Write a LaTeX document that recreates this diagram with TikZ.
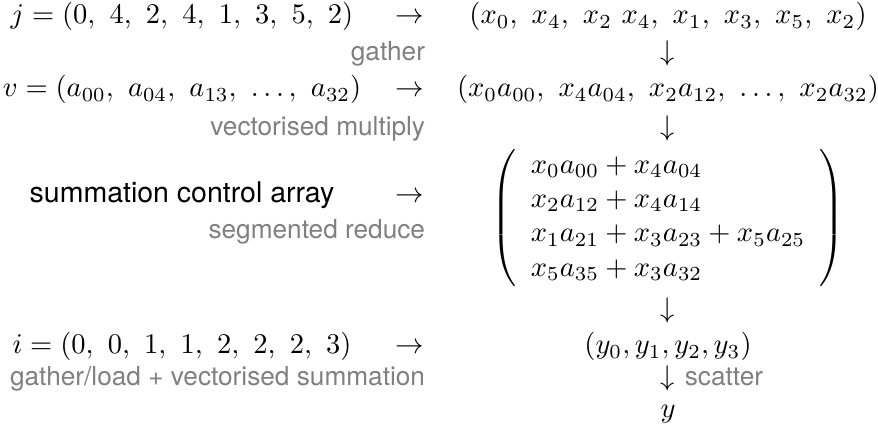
\documentclass[tikz,border=0pt]{standalone}
\usepackage{fontspec}
\setsansfont{TeX Gyre Heros}
\usetikzlibrary{positioning}
\definecolor{flowGray}{RGB}{128,128,128}

\begin{document}
\begin{tikzpicture}[x=1cm,y=1cm,
    every node/.style={inner sep=0pt,outer sep=0pt},
    vec/.style={anchor=base},
    opnote/.style={anchor=base east,text=flowGray,font=\sffamily\fontsize{9.2}{11}\selectfont}]
  \useasboundingbox (0,0) rectangle (10.829,5.303);
  % left column: index and value arrays
  \node[vec] (jIdx) at (2.245,5.007) {$j=(0,\ 4,\ 2,\ 4,\ 1,\ 3,\ 5,\ 2)$};
  \node[opnote] (opGather) at (5.242,4.551) {gather};
  \node[vec] (vVal) at (2.245,4.107) {$v=(a_{00},\ a_{04},\ a_{13},\ \ldots,\ a_{32})$};
  \node[opnote] (opMult) at (5.242,3.626) {vectorised multiply};
  \node[vec,font=\sffamily] (sumCtl) at (2.245,2.800) {summation control array};
  \node[opnote] (opReduce) at (5.242,2.356) {segmented reduce};
  \node[vec] (iIdx) at (2.245,0.937) {$i=(0,\ 0,\ 1,\ 1,\ 2,\ 2,\ 2,\ 3)$};
  \node[opnote] (opSum) at (5.242,0.543) {gather/load + vectorised summation};
  % arrows between the columns
  \node[vec] (toX) at (5.057,5.007) {$\rightarrow$};
  \node[vec] (toProd) at (5.057,4.107) {$\rightarrow$};
  \node[vec] (toMat) at (5.057,2.800) {$\rightarrow$};
  \node[vec] (toY) at (5.057,0.937) {$\rightarrow$};
  % right column: data flow
  \node[vec] (xGath) at (8.239,5.007) {$(x_0,\ x_4,\ x_2\ x_4,\ x_1,\ x_3,\ x_5,\ x_2)$};
  \node[vec] (dnA) at (8.239,4.551) {$\downarrow$};
  \node[vec] (xProd) at (8.239,4.107) {$(x_0a_{00},\ x_4a_{04},\ x_2a_{12},\ \ldots,\ x_2a_{32})$};
  \node[vec] (dnB) at (8.239,3.626) {$\downarrow$};
  \node (sumMat) at (8.239,2.615) {$\left(\begin{array}{l}
      x_0a_{00}+x_4a_{04}\\
      x_2a_{12}+x_4a_{14}\\
      x_1a_{21}+x_3a_{23}+x_5a_{25}\\
      x_5a_{35}+x_3a_{32}
    \end{array}\right)$};
  \node[vec] (dnC) at (8.239,1.381) {$\downarrow$};
  \node[vec] (yPart) at (8.239,0.937) {$(y_0,y_1,y_2,y_3)$};
  \node[vec] (dnD) at (8.239,0.543) {$\downarrow$};
  \node[opnote,right=0.12 of dnD.base east,anchor=base west] (opScatter) {scatter};
  \node[vec] (yOut) at (8.239,0.148) {$y$};
\end{tikzpicture}
\end{document}
